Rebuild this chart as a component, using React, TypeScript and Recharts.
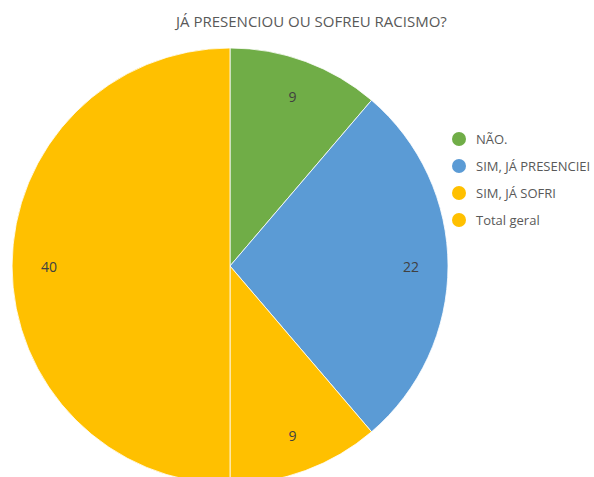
import React from "react";
import { PieChart, Pie, Cell, Legend } from "recharts";

const categories = ["NÃO.", "SIM, JÁ PRESENCIEI", "SIM, JÁ SOFRI", "Total geral"];
const values = [9, 22, 9, 40];
const colors = ["#70AD47", "#5B9BD5", "#FFC000", "#FFC000"];

const data = categories.map((name, i) => ({ name, value: values[i] }));

const RAD = Math.PI / 180;

const renderLabel = (props: any) => {
  const { cx, cy, midAngle, outerRadius, value } = props;
  const r = outerRadius * 0.83;
  const x = cx + r * Math.cos(-midAngle * RAD);
  const y = cy + r * Math.sin(-midAngle * RAD);
  return (
    <text x={x} y={y} fill="#404040" fontSize={14} fontFamily="'Open Sans', sans-serif" textAnchor="middle" dominantBaseline="central">
      {value}
    </text>
  );
};

const LegendContent = () => (
  <ul style={{ listStyle: "none", margin: 0, padding: 0 }}>
    {categories.map((c, i) => (
      <li key={c} style={{ display: "flex", alignItems: "center", height: 27 }}>
        <span style={{ width: 14, height: 14, borderRadius: 7, background: colors[i], display: "inline-block", marginRight: 10 }} />
        <span style={{ fontSize: 13, color: "#595959", fontFamily: "'Open Sans', sans-serif", whiteSpace: "nowrap" }}>{c}</span>
      </li>
    ))}
  </ul>
);

export default function App() {
  return (
    <div style={{ position: "absolute", left: 0, top: 0, width: 594, height: 477, background: "#fff", overflow: "hidden" }}>
      <div
        style={{
          position: "absolute",
          top: 11,
          left: 176,
          whiteSpace: "nowrap",
          fontSize: 15,
          color: "#595959",
          fontFamily: "'Open Sans', sans-serif",
        }}
      >
        JÁ PRESENCIOU OU SOFREU RACISMO?
      </div>
      <PieChart width={594} height={477} margin={{ top: 0, right: 0, bottom: 0, left: 0 }}>
        <Pie
          data={data}
          dataKey="value"
          nameKey="name"
          cx={230}
          cy={266}
          outerRadius={218}
          startAngle={90}
          endAngle={-270}
          stroke="#ffffff"
          strokeWidth={0.8}
          label={renderLabel}
          labelLine={false}
          isAnimationActive={false}
        >
          {data.map((d, i) => (
            <Cell key={d.name} fill={colors[i]} />
          ))}
        </Pie>
        <Legend
          layout="vertical"
          content={<LegendContent />}
          wrapperStyle={{ position: "absolute", left: 452, top: 125, width: 142 }}
        />
      </PieChart>
    </div>
  );
}
